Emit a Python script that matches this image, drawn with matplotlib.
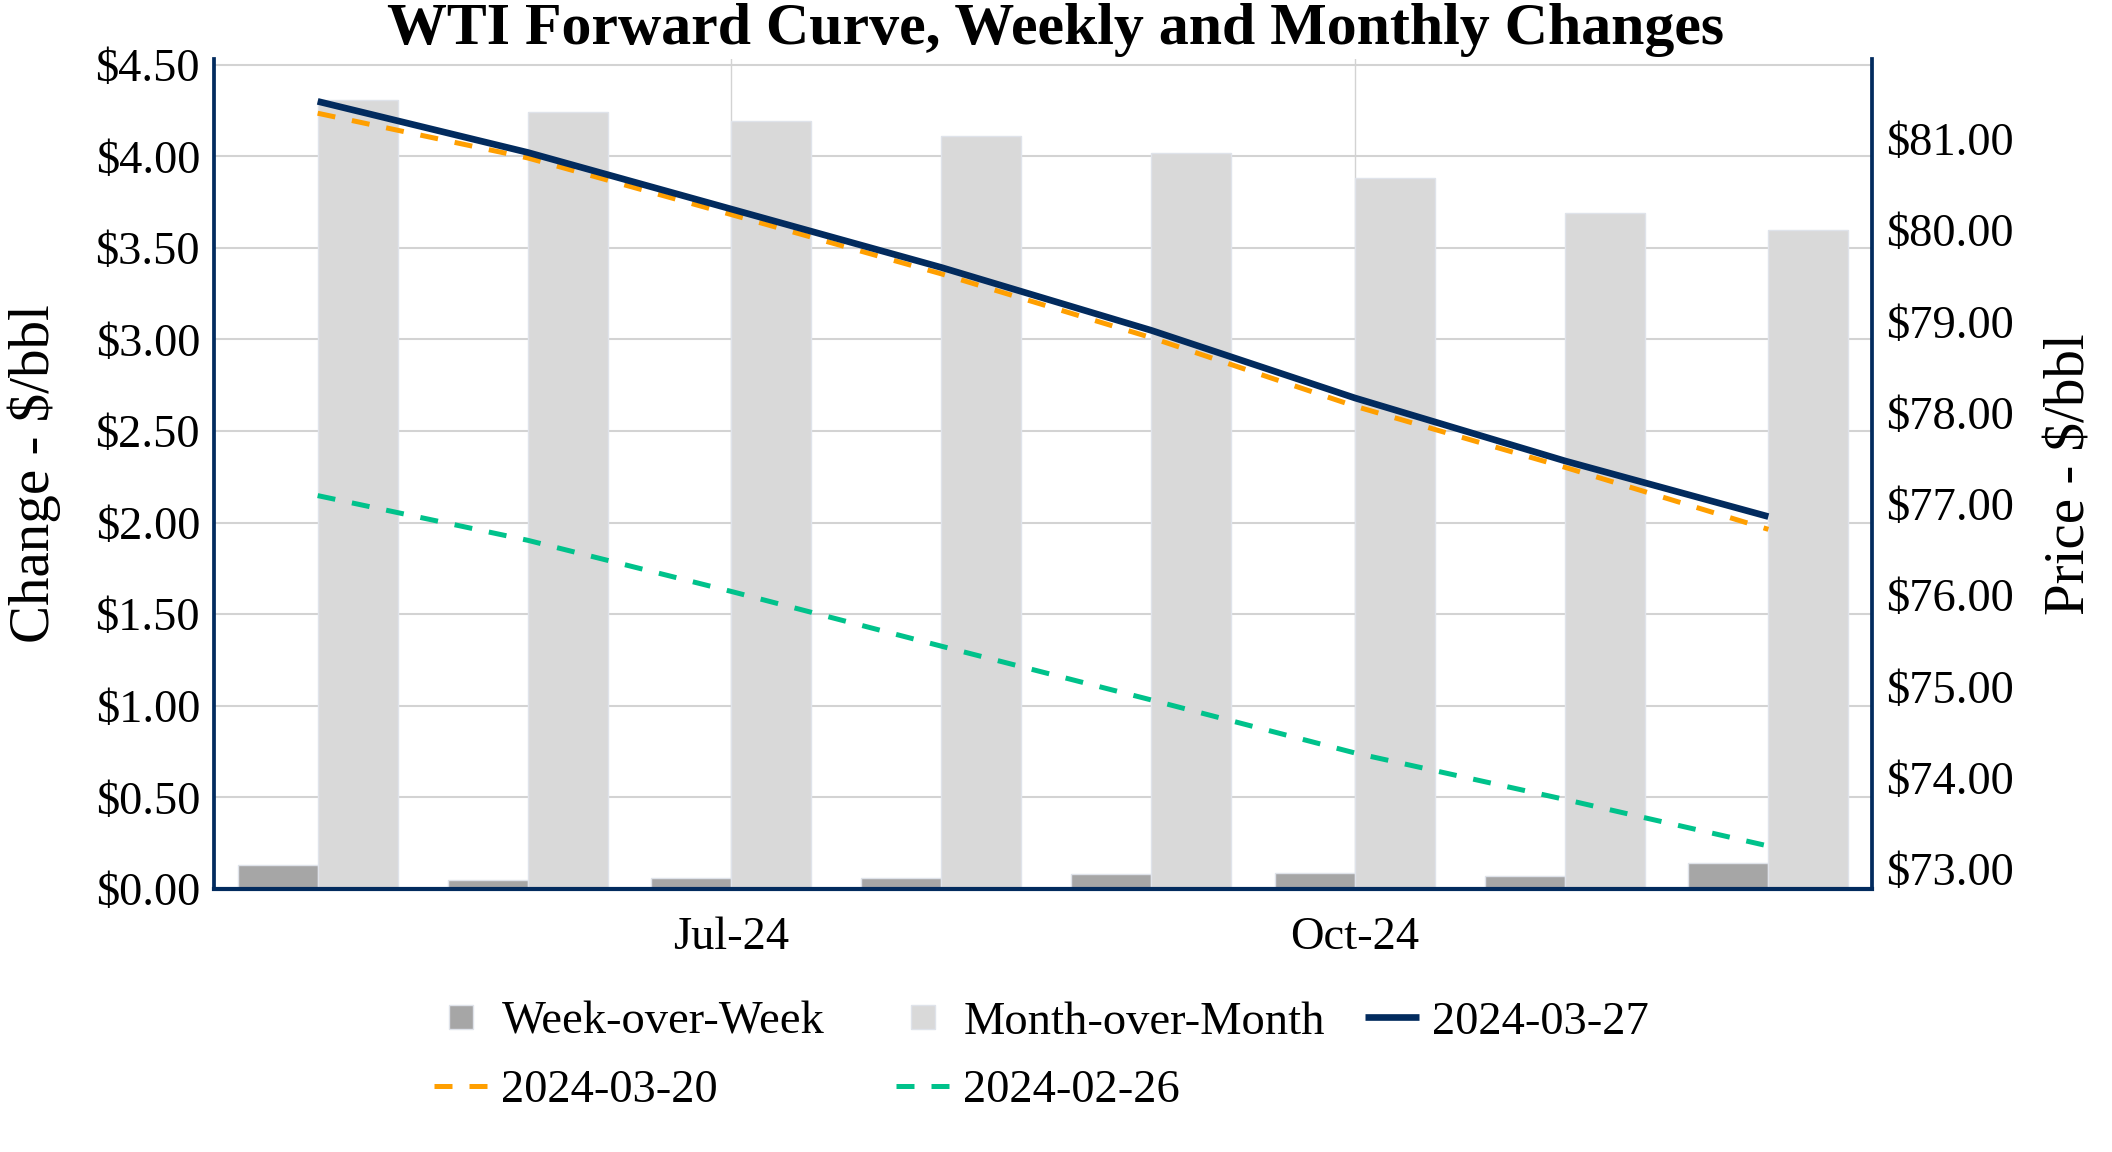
import matplotlib
matplotlib.use("Agg")
import matplotlib.pyplot as plt
import matplotlib.dates as mdates
from matplotlib.lines import Line2D
from matplotlib.ticker import FuncFormatter, FixedLocator
import numpy as np
import pandas as pd

plt.rcParams['font.family'] = ['Liberation Serif', 'DejaVu Serif']
plt.rcParams['text.parse_math'] = False

# ---------------- data ----------------
months = ['2024-05-01', '2024-06-01', '2024-07-01', '2024-08-01',
          '2024-09-01', '2024-10-01', '2024-11-01', '2024-12-01']
week_over_week = [0.13, 0.05, 0.06, 0.06, 0.08, 0.09, 0.07, 0.14]
month_over_month = [4.31, 4.24, 4.19, 4.11, 4.02, 3.88, 3.69, 3.60]
curve_2024_03_27 = [81.41, 80.85, 80.23, 79.59, 78.90, 78.16, 77.47, 76.86]
curve_2024_03_20 = [81.28, 80.79, 80.17, 79.52, 78.82, 78.07, 77.40, 76.72]
curve_2024_02_26 = [77.09, 76.60, 76.04, 75.44, 74.85, 74.27, 73.76, 73.25]
left_ticks = [0.0, 0.5, 1.0, 1.5, 2.0, 2.5, 3.0, 3.5, 4.0, 4.5]
right_ticks = [73, 74, 75, 76, 77, 78, 79, 80, 81]

# ---------------- style ----------------
NAVY = '#022b5e'
ORANGE = '#ff9f00'
GREEN = '#00c28b'
WOW_C = '#a6a6a6'
MOM_C = '#d9d9d9'
EDGE_C = '#dfe3ea'
GRID_C = '#d3d3d3'
FS = 33.5

x = mdates.date2num(pd.to_datetime(months))
anchor = mdates.date2num(pd.Timestamp('2024-07-01'))

fig = plt.figure(figsize=(21.12, 11.52), dpi=100)
ax = fig.add_axes([0.1013, 0.2283, 0.7851, 0.7203])
ax2 = ax.twinx()

bw = 11.8
ax.bar(x, week_over_week, width=-bw, align='edge', color=WOW_C,
       edgecolor=EDGE_C, linewidth=1, zorder=2)
ax.bar(x, month_over_month, width=bw, align='edge', color=MOM_C,
       edgecolor=EDGE_C, linewidth=1, zorder=2)

dash = (0, (3.6, 3.4))
l27, = ax2.plot(x, curve_2024_03_27, color=NAVY, lw=4.8, solid_capstyle='butt', zorder=5)
l20, = ax2.plot(x, curve_2024_03_20, color=ORANGE, lw=3.6, linestyle=dash, zorder=4)
l26, = ax2.plot(x, curve_2024_02_26, color=GREEN, lw=3.6, linestyle=dash, zorder=4)

ax.set_xlim(anchor - 76.3, anchor + 168.3)
ax.xaxis.set_major_locator(mdates.MonthLocator(bymonth=[1, 4, 7, 10]))
ax.xaxis.set_major_formatter(mdates.DateFormatter('%b-%y'))

ax.set_ylim(0, 4.53)
ax.yaxis.set_major_locator(FixedLocator(left_ticks))
ax.yaxis.set_major_formatter(FuncFormatter(lambda v, p: f'${v:.2f}'))
ax2.set_ylim(72.779, 81.872)
ax2.yaxis.set_major_locator(FixedLocator(right_ticks))
ax2.yaxis.set_major_formatter(FuncFormatter(lambda v, p: f'${v:.2f}'))

ax.set_axisbelow(True)
ax.grid(axis='y', color=GRID_C, lw=1.5, zorder=0)
ax.grid(axis='x', color=GRID_C, lw=1.0, zorder=0)

ax.tick_params(axis='x', length=0, pad=20, labelsize=FS)
ax.tick_params(axis='y', length=0, pad=10, labelsize=FS)
ax2.tick_params(axis='y', length=0, pad=10, labelsize=FS)

for s in ax.spines.values():
    s.set_visible(False)
ax2.spines['top'].set_visible(False)
for side in ('left', 'right'):
    ax2.spines[side].set_color(NAVY)
    ax2.spines[side].set_linewidth(2.7)
ax2.spines['bottom'].set_color(NAVY)
ax2.spines['bottom'].set_linewidth(3.0)

ax.set_ylabel('Change - $/bbl', fontsize=41, va='center')
ax.yaxis.set_label_coords(-0.1086, 0.5)
ax2.set_ylabel('Price - $/bbl', fontsize=41, va='center', rotation=90)
ax2.yaxis.set_label_coords(1.1194, 0.5)

fig.text(0.5, 0.9614, 'WTI Forward Curve, Weekly and Monthly Changes',
         ha='center', va='baseline', fontsize=43.1, fontweight='bold')

h_wow = Line2D([], [], marker='s', ls='none', markersize=17, mfc=WOW_C, mec=EDGE_C, mew=1)
h_mom = Line2D([], [], marker='s', ls='none', markersize=17, mfc=MOM_C, mec=EDGE_C, mew=1)

leg_kw = dict(loc='upper left', frameon=False, fontsize=FS, handlelength=1.15,
              handletextpad=0.3, labelspacing=0.56, borderpad=0, borderaxespad=0)
legend_top = 0.131
columns = [([h_wow, l20], ['Week-over-Week', '2024-03-20'], 434 / 2112),
           ([h_mom, l26], ['Month-over-Month', '2024-02-26'], 896 / 2112),
           ([l27], ['2024-03-27'], 1365 / 2112)]
for hs, ls, xl in columns:
    lg = fig.legend(hs, ls, bbox_to_anchor=(xl, legend_top), **leg_kw)

fig.savefig('out.png', dpi=100)
